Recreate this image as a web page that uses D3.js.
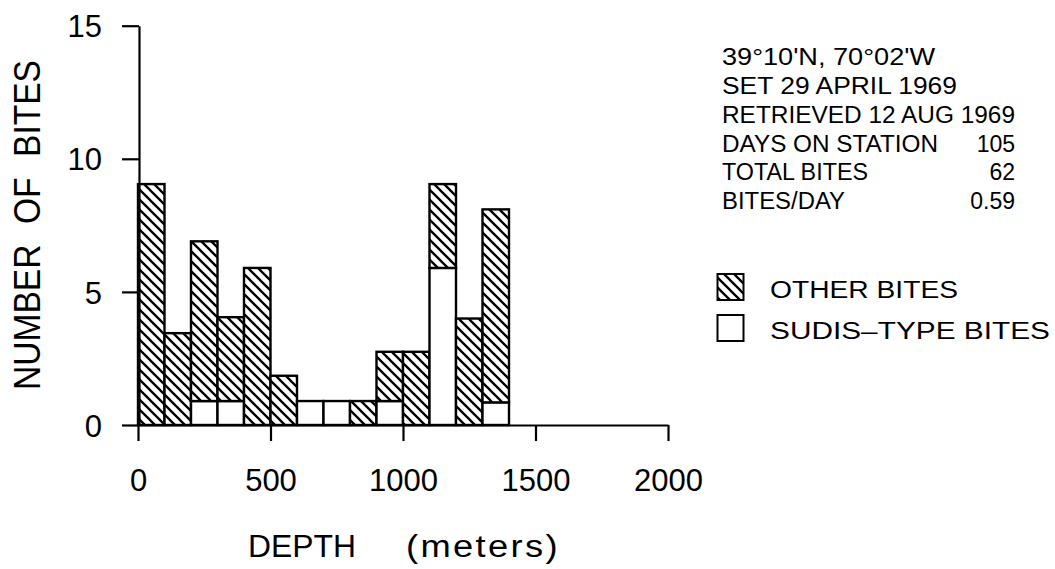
<!DOCTYPE html>
<html>
<head>
<meta charset="utf-8">
<script src="https://cdn.jsdelivr.net/npm/d3@7"></script>
<style>
  html, body { margin: 0; padding: 0; background: #fff; }
  svg { display: block; }
  text { font-family: "Liberation Sans", Arial, Helvetica, sans-serif; fill: #000; }
</style>
</head>
<body>
<svg id="chart" width="1055" height="569"></svg>
<script>
// ---- data ----
const binStart = [0, 100, 200, 300, 400, 500, 600, 700, 800, 900, 1000, 1100, 1200, 1300];
const binWidth = 100;
const sudisBites = [0, 0, 0.9, 0.9, 0, 0, 0.9, 0.9, 0, 0.9, 0, 5.9, 0, 0.85];
const otherBites = [9.05, 3.45, 6.0, 3.15, 5.9, 1.85, 0, 0, 0.9, 1.85, 2.75, 3.15, 4.0, 7.25];
const yTickValues = [0, 5, 10, 15];
const xTickValues = [0, 500, 1000, 1500, 2000];
const yTitle = "NUMBER OF BITES";
const xTitleMain = "DEPTH";
const xTitleUnit = "(meters)";
const infoLines = [
  ["39°10'N, 70°02'W", ""],
  ["SET 29 APRIL 1969", ""],
  ["RETRIEVED 12 AUG 1969", ""],
  ["DAYS ON STATION", "105"],
  ["TOTAL BITES", "62"],
  ["BITES/DAY", "0.59"]
];
const legendItems = ["OTHER BITES", "SUDIS\u2013TYPE BITES"];

// ---- layout ----
const svg = d3.select("#chart");
const x = d3.scaleLinear().domain([0, 2000]).range([138, 668]);
const y = d3.scaleLinear().domain([0, 15]).range([425, 25.7]);

// hatch pattern
const defs = svg.append("defs");
const s = 10;
const pat = defs.append("pattern")
  .attr("id", "hatch").attr("patternUnits", "userSpaceOnUse")
  .attr("width", s).attr("height", s);
pat.append("rect").attr("width", s).attr("height", s).attr("fill", "#fff");
pat.append("path")
  .attr("d", `M0,0 L${s},${s} M${s-1.5},-1.5 L${s+1.5},1.5 M-1.5,${s-1.5} L1.5,${s+1.5}`)
  .attr("stroke", "#000").attr("stroke-width", 2.3);

// bars
const bars = svg.append("g");
binStart.forEach((b, i) => {
  const x0 = x(b), x1 = x(b + binWidth);
  if (sudisBites[i] > 0) {
    bars.append("rect")
      .attr("x", x0).attr("width", x1 - x0)
      .attr("y", y(sudisBites[i])).attr("height", y(0) - y(sudisBites[i]))
      .attr("fill", "#fff").attr("stroke", "#000").attr("stroke-width", 2.4);
  }
  if (otherBites[i] > 0) {
    const top = sudisBites[i] + otherBites[i];
    bars.append("rect")
      .attr("x", x0).attr("width", x1 - x0)
      .attr("y", y(top)).attr("height", y(sudisBites[i]) - y(top))
      .attr("fill", "url(#hatch)").attr("stroke", "#000").attr("stroke-width", 2.4);
  }
});

// axes
const yAxis = d3.axisLeft(y).tickValues(yTickValues).tickSize(17).tickSizeOuter(0).tickPadding(20).tickFormat(d3.format("d"));
const gy = svg.append("g").attr("transform", "translate(139,0)").call(yAxis);
const xAxis = d3.axisBottom(x).tickValues(xTickValues).tickSize(16).tickSizeOuter(0).tickFormat(d3.format("d"));
const gx = svg.append("g").attr("transform", "translate(0,425)").call(xAxis);

[gx, gy].forEach(g => {
  g.selectAll("path.domain").attr("stroke", "#000").attr("stroke-width", 2.2);
  g.selectAll(".tick line").attr("stroke", "#000").attr("stroke-width", 2.2);
  g.selectAll(".tick text").attr("font-family", "Liberation Sans, Arial, sans-serif")
    .attr("font-size", 31).attr("fill", "#000");
});
gx.selectAll(".tick text").attr("y", 66).attr("dy", null);
gy.selectAll(".tick text").attr("dy", "0.36em");

// axis titles
svg.append("text")
  .attr("transform", "translate(40,225) rotate(-90)")
  .attr("text-anchor", "middle")
  .attr("font-size", 36)
  .attr("textLength", 330).attr("lengthAdjust", "spacingAndGlyphs")
  .style("word-spacing", "12px")
  .text(yTitle);
svg.append("text").attr("x", 248).attr("y", 557)
  .attr("font-size", 31).attr("textLength", 108).attr("lengthAdjust", "spacingAndGlyphs")
  .text(xTitleMain);
svg.append("text").attr("x", 406).attr("y", 557)
  .attr("font-size", 31).style("letter-spacing", "2px")
  .attr("textLength", 154).attr("lengthAdjust", "spacingAndGlyphs")
  .text(xTitleUnit);

// info block
const infoBase = [65, 94, 123, 151.5, 180, 209];
const infoLeftLen = [213, 235, 293, 216, 146, 123];
const info = svg.append("g").attr("font-size", 23);
infoLines.forEach((ln, i) => {
  info.append("text").attr("x", 722).attr("y", infoBase[i])
    .attr("textLength", infoLeftLen[i]).attr("lengthAdjust", "spacingAndGlyphs")
    .text(ln[0]);
  if (ln[1]) {
    info.append("text").attr("x", 1015).attr("y", infoBase[i])
      .attr("text-anchor", "end")
      .text(ln[1]);
  }
});

// legend
const legend = svg.append("g");
const legY = [274, 315];
const legFill = ["url(#hatch)", "#fff"];
const legLen = [188, 280];
legendItems.forEach((t, i) => {
  legend.append("rect").attr("x", 717.5).attr("y", legY[i]).attr("width", 26).attr("height", 26)
    .attr("fill", legFill[i]).attr("stroke", "#000").attr("stroke-width", 2);
  legend.append("text").attr("x", 770).attr("y", legY[i] + 23.5)
    .attr("font-size", 23).attr("textLength", legLen[i]).attr("lengthAdjust", "spacingAndGlyphs")
    .text(t);
});
</script>
</body>
</html>
